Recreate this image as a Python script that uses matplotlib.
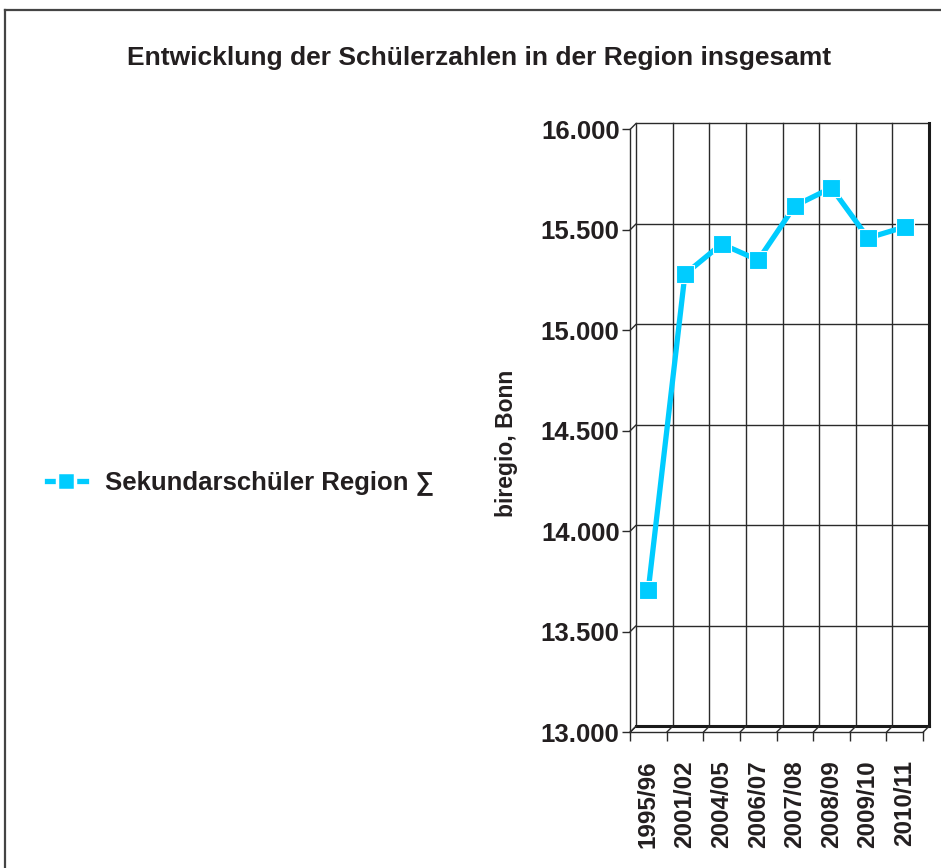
import matplotlib
matplotlib.use("Agg")
import matplotlib.pyplot as plt
from matplotlib.lines import Line2D
from matplotlib.transforms import ScaledTranslation

plt.rcParams['font.family'] = ['Liberation Sans', 'DejaVu Sans']

categories = ["1995/96", "2001/02", "2004/05", "2006/07", "2007/08", "2008/09", "2009/10", "2010/11"]
values = [13710, 15280, 15430, 15350, 15620, 15710, 15460, 15515]
yticks = [13000, 13500, 14000, 14500, 15000, 15500, 16000]
ytick_labels = ["13.000", "13.500", "14.000", "14.500", "15.000", "15.500", "16.000"]
series_name = "Sekundarschüler Region ∑"
title = "Entwicklung der Schülerzahlen in der Region insgesamt"
ylabel = "biregio, Bonn"

W, H = 941, 868
DPI = 100
fig = plt.figure(figsize=(W / DPI, H / DPI), dpi=DPI)

TXT = "#231f20"
CYAN = "#00ccff"
GRID = "#2a2a2a"

# figure border (top and left visible)
fig.add_artist(Line2D([5 / W, 5 / W], [0, 1 - 10 / H], transform=fig.transFigure, color="#444444", lw=1.6))
fig.add_artist(Line2D([5 / W, 1], [1 - 10 / H, 1 - 10 / H], transform=fig.transFigure, color="#444444", lw=1.6))

left, right = 630, 923
top, bottom = 129.5, 732.3
ax = fig.add_axes([left / W, 1 - bottom / H, (right - left) / W, (bottom - top) / H])
n = len(categories)
ax.set_xlim(-0.5, n - 0.5)
ax.set_ylim(13000, 16000)

# back plane offset
off = ScaledTranslation(6 / DPI, 6 / DPI, fig.dpi_scale_trans)
back = ax.transData + off

for y in yticks:
    ax.plot([-0.5, n - 0.5], [y, y], color=GRID, lw=1.0, transform=back, clip_on=False, zorder=1)
for k in range(n + 1):
    ax.plot([k - 0.5, k - 0.5], [13000, 16000], color=GRID, lw=1.0, transform=back, clip_on=False, zorder=1)
# back plane right border and floor edge
ax.plot([n - 0.5, n - 0.5], [13000, 16000], color="#1a1a1a", lw=2.2, transform=back, clip_on=False, zorder=1)
ax.plot([-0.5, n - 0.5], [13000, 13000], color="#1a1a1a", lw=2.2, transform=back, clip_on=False, zorder=1)

# depth connectors
for y in yticks:
    ax.annotate("", xy=(-0.5, y), xycoords="data", xytext=(6, 6), textcoords="offset pixels",
                arrowprops=dict(arrowstyle="-", color=GRID, lw=1.0, shrinkA=0, shrinkB=0),
                annotation_clip=False)
for k in range(n + 1):
    ax.annotate("", xy=(k - 0.5, 13000), xycoords="data", xytext=(6, 6), textcoords="offset pixels",
                arrowprops=dict(arrowstyle="-", color=GRID, lw=1.0, shrinkA=0, shrinkB=0),
                annotation_clip=False)

# data
x = list(range(n))
ax.plot(x, values, color=CYAN, lw=3.8, marker="s", markersize=13.5, markerfacecolor=CYAN,
        markeredgecolor="white", markeredgewidth=0.8, clip_on=False, zorder=5)

# spines
for s in ["top", "right"]:
    ax.spines[s].set_visible(False)
ax.spines["left"].set_color(GRID)
ax.spines["bottom"].set_color(GRID)
ax.spines["left"].set_linewidth(1.0)
ax.spines["bottom"].set_linewidth(1.0)

ax.set_yticks(yticks)
ax.set_yticklabels(ytick_labels, fontsize=18.5, fontweight="bold", color=TXT)
ax.tick_params(axis="y", length=6, width=1.0, color=GRID, pad=1.5, direction="out")

ax.set_xticks([k - 0.5 for k in range(n + 1)], minor=False)
ax.set_xticklabels([""] * (n + 1))
ax.tick_params(axis="x", length=6.5, width=1.0, color=GRID, direction="out")
ax.set_xticks(x, minor=True)
ax.set_xticklabels(categories, minor=True, rotation=90, fontsize=17.5, fontweight="bold", color=TXT)
ax.tick_params(axis="x", which="minor", length=0, pad=20)

ax.set_ylabel(ylabel, fontsize=16.5, fontweight="bold", color=TXT)
ax.yaxis.set_label_coords((518 - left) / (right - left), 1 - (443 - top) / (bottom - top))
ax.patch.set_alpha(0)

fig.text(479 / W, 1 - 58 / H, title, ha="center", va="center", fontsize=19, fontweight="bold", color=TXT)

handle = Line2D([], [], color=CYAN, lw=3.8, marker="s", markersize=13.5, markerfacecolor=CYAN,
                markeredgecolor="white", markeredgewidth=2.5)
fig.legend([handle], [series_name], loc="center left", bbox_to_anchor=(24 / W, 1 - 483 / H),
           frameon=False, handlelength=1.5, handletextpad=0.75,
           prop=dict(size=18.5, weight="bold"), labelcolor=TXT)

fig.savefig("out.png", dpi=DPI)
